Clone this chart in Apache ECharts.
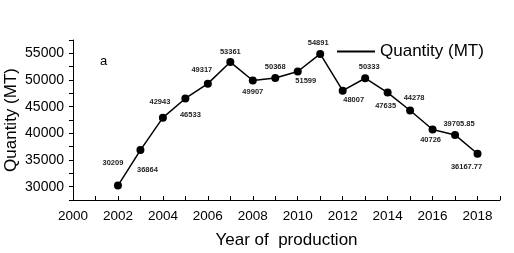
<!DOCTYPE html>
<html>
<head>
<meta charset="utf-8">
<script src="https://cdn.jsdelivr.net/npm/echarts@6/dist/echarts.min.js"></script>
<style>
  html, body { margin: 0; padding: 0; background: #fff; }
  #main { width: 514px; height: 253px; }
</style>
</head>
<body>
<div id="main"></div>
<script>
// data
var years = [2002, 2003, 2004, 2005, 2006, 2007, 2008, 2009, 2010, 2011, 2012, 2013, 2014, 2015, 2016, 2017, 2018];
var quantity = [30209, 36864, 42943, 46533, 49317, 53361, 49907, 50368, 51599, 54891, 48007, 50333, 47635, 44278, 40726, 39705.85, 36167.77];
var yLabels = [30000, 35000, 40000, 45000, 50000, 55000];

// where each value label sits relative to its point (px)
var labelOffset = [
  [-5, -23], [7, 20], [-3, -16], [5, 16], [-6, -14], [0, -10],
  [0, 11], [0, -11], [8, 9], [-2, -11], [11, 9], [4, -11],
  [-2, 13], [4, -13], [-2, 10], [4, -11], [-11, 13]
];

var chart = echarts.init(document.getElementById("main"));

var points = years.map(function (y, i) {
  return {
    value: [y, quantity[i]],
    label: { offset: labelOffset[i] }
  };
});

chart.setOption({
  animation: false,
  textStyle: { fontFamily: "Liberation Sans, Arial, sans-serif" },
  grid: { left: 73, right: 14, top: 40, bottom: 53, containLabel: false, outerBoundsMode: "none" },
  legend: {
    left: 332,
    top: 38,
    icon: "rect",
    itemWidth: 38,
    itemHeight: 2,
    itemGap: 6,
    textStyle: { fontSize: 17, color: "#000" },
    data: ["Quantity (MT)"]
  },
  graphic: [
    {
      type: "text",
      left: 100,
      top: 55,
      style: { text: "a", fontSize: 13, fill: "#000", fontFamily: "Liberation Sans, Arial, sans-serif" }
    }
  ],
  xAxis: {
    type: "value",
    min: 2000,
    max: 2019,
    interval: 2,
    name: "Year of  production",
    nameLocation: "middle",
    nameGap: 32,
    nameMoveOverlap: false,
    nameTextStyle: { fontSize: 17, color: "#000" },
    splitLine: { show: false },
    axisLine: { lineStyle: { color: "#000", width: 1 } },
    axisTick: { inside: true, length: 4, lineStyle: { color: "#000" } },
    minorTick: { show: true, splitNumber: 2, length: 4, lineStyle: { color: "#000" } },
    axisLabel: {
      fontSize: 13.5,
      color: "#000",
      margin: 9,
      formatter: function (v) { return String(v); }
    }
  },
  yAxis: {
    type: "value",
    min: 27500,
    max: 57500,
    interval: 2500,
    name: "Quantity (MT)",
    nameLocation: "middle",
    nameGap: 53,
    nameMoveOverlap: false,
    nameTextStyle: { fontSize: 17, color: "#000" },
    splitLine: { show: false },
    axisLine: { show: true, lineStyle: { color: "#000", width: 1 } },
    axisTick: { inside: false, length: 4, lineStyle: { color: "#000" } },
    axisLabel: {
      fontSize: 14,
      color: "#000",
      margin: 9,
      formatter: function (v) {
        return yLabels.indexOf(v) >= 0 ? String(v) : "";
      }
    }
  },
  series: [
    {
      name: "Quantity (MT)",
      type: "line",
      data: points,
      symbol: "circle",
      symbolSize: 8,
      itemStyle: { color: "#000" },
      lineStyle: { color: "#000", width: 1.5 },
      label: {
        show: true,
        position: "inside",
        fontSize: 7.5,
        fontWeight: "bold",
        color: "#222",
        formatter: function (p) { return String(p.value[1]); }
      }
    }
  ]
});
</script>
</body>
</html>
